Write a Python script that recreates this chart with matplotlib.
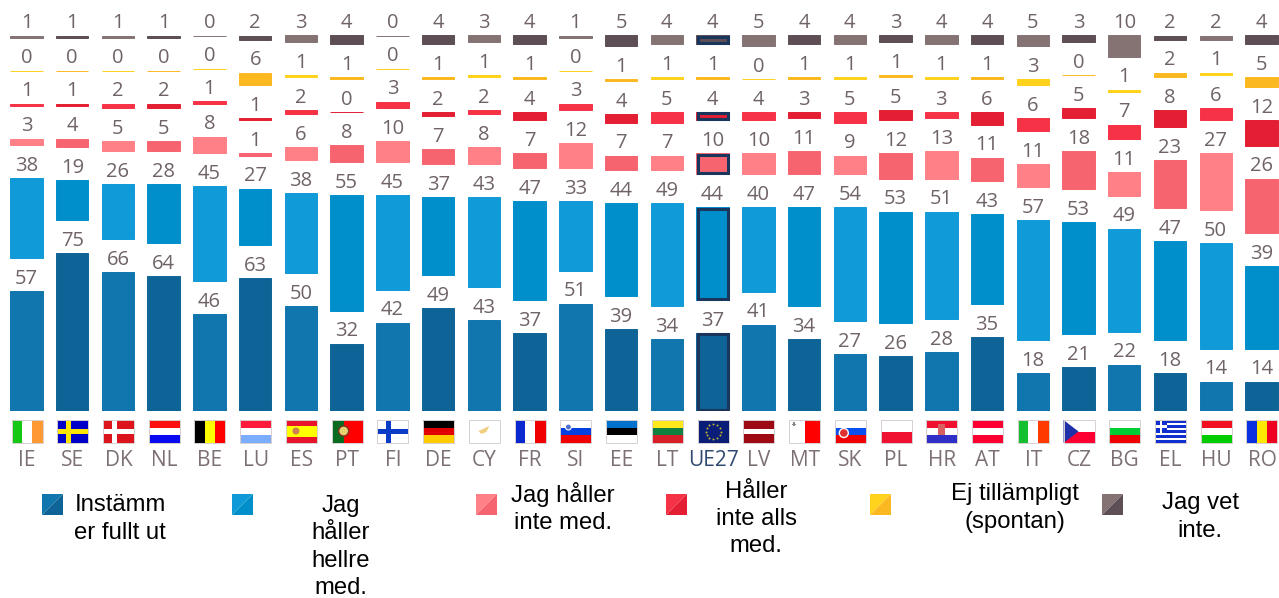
import matplotlib
matplotlib.use('Agg')
import matplotlib.pyplot as plt
import numpy as np
from matplotlib.patches import Rectangle, Polygon, Circle

plt.rcParams['font.family'] = ['Open Sans', 'DejaVu Sans']

countries = ['IE', 'SE', 'DK', 'NL', 'BE', 'LU', 'ES', 'PT', 'FI', 'DE', 'CY', 'FR', 'SI', 'EE',
             'LT', 'UE27', 'LV', 'MT', 'SK', 'PL', 'HR', 'AT', 'IT', 'CZ', 'BG', 'EL', 'HU', 'RO']

helt = [57, 75, 66, 64, 46, 63, 50, 32, 42, 49, 43, 37, 51, 39, 34, 37, 41, 34, 27, 26, 28, 35, 18, 21, 22, 18, 14, 14]
hellre = [38, 19, 26, 28, 45, 27, 38, 55, 45, 37, 43, 47, 33, 44, 49, 44, 40, 47, 54, 53, 51, 43, 57, 53, 49, 47, 50, 39]
inte = [3, 4, 5, 5, 8, 1, 6, 8, 10, 7, 8, 7, 12, 7, 7, 10, 10, 11, 9, 12, 13, 11, 11, 18, 11, 23, 27, 26]
inte_alls = [1, 1, 2, 2, 1, 1, 2, 0, 3, 2, 2, 4, 3, 4, 5, 4, 4, 3, 5, 5, 3, 6, 6, 5, 7, 8, 6, 12]
ej = [0, 0, 0, 0, 0, 6, 1, 1, 0, 1, 1, 1, 0, 1, 1, 1, 0, 1, 1, 1, 1, 1, 3, 0, 1, 2, 1, 5]
vet_ej = [1, 1, 1, 1, 0, 2, 3, 4, 0, 4, 3, 4, 1, 5, 4, 4, 5, 4, 4, 3, 4, 4, 5, 3, 10, 2, 2, 4]

series = [helt, hellre, inte, inte_alls, ej, vet_ej]
# ljus / mörk färg, växlar mellan länderna
colors = [('#1176AE', '#0F6497'), ('#109AD8', '#008FCB'), ('#FF8087', '#F6656F'),
          ('#F63246', '#E41F33'), ('#FFD21C', '#FBB820'), ('#857374', '#5E4F56')]
legend_labels = ['Instämm\ner fullt ut', 'Jag\nhåller\nhellre\nmed.', 'Jag håller\ninte med.',
                 'Håller\ninte alls\nmed.', 'Ej tillämpligt\n(spontan)', 'Jag vet\ninte.']

W, H = 1279, 598
X0, DX = 26.5, 45.74      # första stapelns mitt och avstånd, pixlar
BASE = 411                # baslinje, pixlar
PX_PER_UNIT = 2.105
GAP = 33 / PX_PER_UNIT    # lucka mellan segmenten
NAVY = '#1B365D'
GREY = '#6F6365'

fig = plt.figure(figsize=(W / 100, H / 100), dpi=100)
ax = fig.add_axes([0, 1 - BASE / H, 1, BASE / H])
ax.set_xlim(-X0 / DX, (W - X0) / DX)
ax.set_ylim(0, BASE / PX_PER_UNIT)
ax.axis('off')

x = np.arange(len(countries))
bottom = np.zeros(len(countries))
for s, vals in enumerate(series):
    vals = np.array(vals)
    cols = [colors[s][i % 2] for i in x]
    ax.bar(x, vals, 0.71, bottom=bottom, color=cols, edgecolor=cols, linewidth=0.7)
    for i in x:
        ax.annotate(str(vals[i]), (i, bottom[i] + vals[i]), xytext=(0, 1.6), textcoords='offset points',
                    ha='center', va='bottom', fontsize=14.5, color=GREY)
        if countries[i] == 'UE27' and s != 4:
            ax.add_patch(Rectangle((i - 0.33, bottom[i] + 0.6), 0.66, max(vals[i] - 1.2, 0.2), fill=False,
                                   edgecolor=NAVY, linewidth=2.2))
    bottom = bottom + vals + GAP

# pixelaxlar för flaggor och legend
px = fig.add_axes([0, 0, 1, 1])
px.set_xlim(0, W)
px.set_ylim(H, 0)
px.axis('off')
px.patch.set_alpha(0)

hstripes = {
    'NL': ['#FF1010', 'white', '#0A0AF0'], 'LU': ['#FF1A3C', 'white', '#7BADFF'],
    'ES': ['#E8142B', '#FFFF00', '#FFFF00', '#E8142B'], 'DE': ['black', '#E00000', '#FFCC00'],
    'SI': ['white', '#0040E0', '#F00000'], 'EE': ['#0072CE', 'black', 'white'],
    'LT': ['#FFE81C', '#108040', '#D81E28'], 'LV': ['#9E0A14', '#9E0A14', 'white', '#9E0A14', '#9E0A14'],
    'SK': ['white', '#0A50F0', '#F00000'], 'PL': ['white', '#F01030'],
    'HR': ['#F01030', 'white', '#3030C8'], 'AT': ['#FF0033', 'white', '#FF0033'],
    'CZ': ['white', '#FF0033'], 'BG': ['white', '#00CC33', '#F00000'],
    'HU': ['#F01020', 'white', '#00CC00'],
}
vstripes = {
    'IE': ['#14C814', 'white', '#FF9933'], 'BE': ['black', '#FFFF00', '#FF0000'],
    'PT': ['#0A6A20', '#0A6A20', '#FF0000', '#FF0000', '#FF0000'], 'FR': ['#0A28D0', 'white', '#F00000'],
    'MT': ['white', '#FF0000'], 'IT': ['#14C030', 'white', '#FF3A00'], 'RO': ['#0A30E0', '#FFE800', '#F00020'],
}
crosses = {'SE': ('#0000C8', '#FFE600'), 'DK': ('#DC141C', 'white'), 'FI': ('white', '#0A3CC8')}


def rect(x0, y0, w, h, c):
    px.add_patch(Rectangle((x0, y0), w, h, facecolor=c, edgecolor='none'))


def flag(code, cx, y0=420, w=31, h=23):
    x0 = cx - w / 2
    if code in hstripes:
        st = hstripes[code]
        for k, c in enumerate(st):
            rect(x0, y0 + k * h / len(st), w, h / len(st), c)
    elif code in vstripes:
        st = vstripes[code]
        for k, c in enumerate(st):
            rect(x0 + k * w / len(st), y0, w / len(st), h, c)
    elif code in crosses:
        bg, fg = crosses[code]
        rect(x0, y0, w, h, bg)
        rect(x0, y0 + h / 2 - 2.5, w, 5, fg)
        rect(x0 + 9, y0, 5, h, fg)
    elif code == 'CY':
        rect(x0, y0, w, h, 'white')
        px.add_patch(Polygon([(cx - 6, y0 + 11), (cx + 5, y0 + 6), (cx + 2, y0 + 12), (cx - 3, y0 + 14)],
                             facecolor='#F0D080', edgecolor='none'))
    elif code == 'UE27':
        rect(x0, y0, w, h, '#0A1E78')
        ang = np.arange(12) * np.pi / 6
        px.scatter(cx + 7.5 * np.cos(ang), y0 + h / 2 + 7.5 * np.sin(ang), s=2, color='#C8B428', linewidths=0)
    elif code == 'EL':
        for k in range(9):
            rect(x0, y0 + k * h / 9, w, h / 9, '#1030D0' if k % 2 == 0 else 'white')
        rect(x0, y0, 12, 12.8, '#1030D0')
        rect(x0, y0 + 5, 12, 2.6, 'white')
        rect(x0 + 4.7, y0, 2.6, 12.8, 'white')
    # små detaljer
    if code == 'ES':
        px.add_patch(Circle((x0 + 10, y0 + 11), 3.5, facecolor='#D08050', edgecolor='none'))
    if code == 'PT':
        px.add_patch(Circle((x0 + 12, y0 + 11), 5, facecolor='#E8D070', edgecolor='#803020', linewidth=1))
    if code == 'SI':
        px.add_patch(Circle((x0 + 8, y0 + 7), 3, facecolor='#5070D0', edgecolor='white', linewidth=0.8))
    if code == 'SK':
        px.add_patch(Circle((x0 + 9, y0 + 13), 4.5, facecolor='#E03030', edgecolor='white', linewidth=1))
    if code == 'HR':
        rect(cx - 3.5, y0 + 4, 7, 11, '#D86060')
    if code == 'MT':
        rect(x0 + 3, y0 + 3.5, 4, 1.5, '#888888')
        rect(x0 + 4.3, y0 + 2.2, 1.5, 4, '#888888')
    if code == 'CZ':
        px.add_patch(Polygon([(x0, y0), (x0 + 15, y0 + h / 2), (x0, y0 + h)], facecolor='#2030A8', edgecolor='none'))
    px.add_patch(Rectangle((x0, y0), w, h, fill=False, edgecolor='#D8D0D0', linewidth=0.7))


for i, code in enumerate(countries):
    cx = X0 + DX * i + 0.5
    flag(code, cx)
    px.text(cx, 461, code, ha='center', va='center', fontsize=15,
            color='#2F4A70' if code == 'UE27' else '#7C7072')

# legend: ruta med två toner och text
box_x = [42, 232, 476, 666, 870, 1102]
box_w = [21, 21, 21, 21, 21, 21]
text_x = [120, 341, 563, 756, 1015, 1200]
text_y = [519, 547, 508, 519, 508, 517]
for k in range(6):
    b, w = box_x[k], box_w[k]
    px.add_patch(Polygon([(b, 494), (b + w, 494), (b, 515)], facecolor=colors[k][0], edgecolor='none'))
    px.add_patch(Polygon([(b + w, 494), (b + w, 515), (b, 515)], facecolor=colors[k][1], edgecolor='none'))
    px.text(text_x[k], text_y[k], legend_labels[k], ha='center', va='center', multialignment='center',
            fontsize=17.2, linespacing=1.3, color='black', family=['Liberation Sans', 'DejaVu Sans'])

fig.savefig('out.png', dpi=100, facecolor='white')
